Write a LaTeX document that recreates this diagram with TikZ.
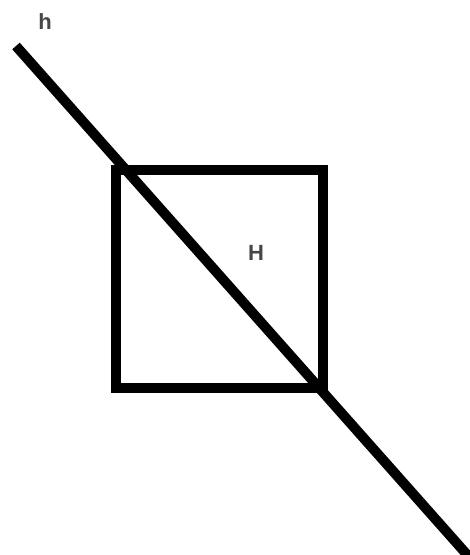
\documentclass[tikz,border=0pt]{standalone}
\usepackage{fontspec}
\setmainfont{Liberation Sans}
\usetikzlibrary{positioning,calc}
\tikzset{
  thk/.style  = {line width=10pt, draw=black},
  sq/.style   = {thk, minimum width=207pt, minimum height=218pt,
                 inner sep=0pt, outer sep=0pt},
  lbl/.style  = {font=\fontsize{22}{24}\selectfont\bfseries, text=black!72, inner sep=0pt}
}
\begin{document}
\begin{tikzpicture}[x=1pt, y=-1pt]
  \useasboundingbox (0,0) rectangle (470,555);
  \node[sq] (box) at (219,279) {};
  \coordinate (hstart) at (16,46);
  \coordinate (hend) at (470,558);
  \draw[thk] (hstart) -- (hend);
  \node[lbl] (hlab) at (45,22) {h};
  \node[lbl] (Hlab) at (256,253) {H};
\end{tikzpicture}
\end{document}
